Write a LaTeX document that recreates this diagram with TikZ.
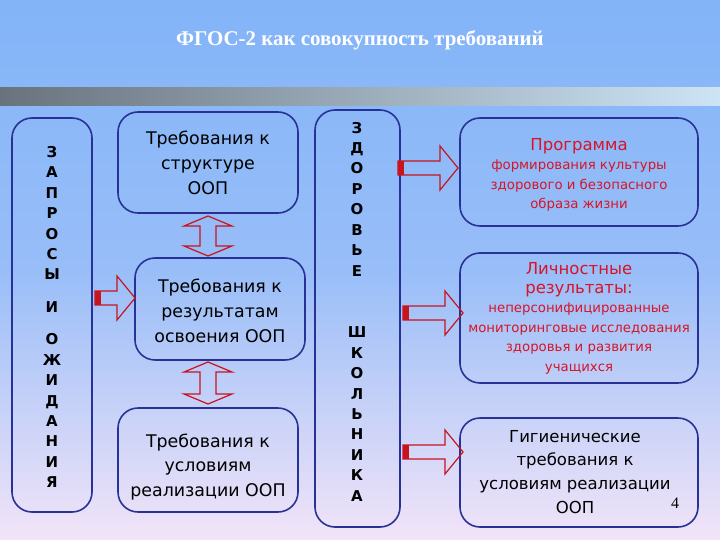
\documentclass[tikz,border=0pt]{standalone}
\usepackage{fontspec}
\setmainfont{Liberation Serif}
\setsansfont{DejaVu Sans}[Scale=0.92]
\newfontfamily\bxf{DejaVu Sans}
\definecolor{bgtop}{RGB}{130,180,248}
\definecolor{bgbot}{RGB}{242,228,248}
\definecolor{bord}{RGB}{40,50,150}
\definecolor{ared}{RGB}{200,20,30}
\definecolor{tred}{RGB}{215,20,40}
\tikzset{
 box/.style={draw=bord,line width=1.6pt,rounded corners=20bp},
 lt/.style={font=\sffamily\fontsize{19}{25}\selectfont,align=center},
 rt/.style={font=\sffamily\fontsize{14.5}{19.5}\selectfont,align=center,text=tred},
 col/.style={font=\bxf\bfseries\fontsize{15}{20.5}\selectfont,align=center},
 arr/.style={draw=ared,line width=1.2pt,line join=miter}
}
\newcommand\rarr[3]{% x1 x2 y
 \draw[arr] (#1,#3-7) -- ({#2-18},#3-7) -- ({#2-18},#3-22) -- (#2,#3) -- ({#2-18},#3+22) -- ({#2-18},#3+7) -- (#1,#3+7) -- cycle;
 \fill[ared] (#1,#3-7) rectangle ({#1+6},#3+7);}
\newcommand\varr[3]{% x y1 y2
 \draw[arr] (#1-8,#2+10) -- (#1-8,#3-10) -- (#1-24,#3-10) -- (#1,#3) -- (#1+24,#3-10) -- (#1+8,#3-10) -- (#1+8,#2+10) -- (#1+24,#2+10) -- (#1,#2) -- (#1-24,#2+10) -- cycle;}
\begin{document}
\begin{tikzpicture}[x=1bp,y=-1bp]
\useasboundingbox (0,0) rectangle (720,540);
\shade[top color=bgtop,bottom color=bgbot,middle color=bgtop!80!bgbot] (0,0) rectangle (720,540);
\shade[left color={rgb,255:red,105;green,115;blue,125},right color={rgb,255:red,205;green,228;blue,245}] (0,88) rectangle (720,106);
\node[font=\bfseries\fontsize{21}{24}\selectfont,text=white] (title) at (360,40) {ФГОС-2 как совокупность требований};
\draw[box] (12,118) rectangle (92,512);
\node[col] (zap) at (52,317) {З\\А\\П\\Р\\О\\С\\Ы\\[12bp]И\\[12bp]О\\Ж\\И\\Д\\А\\Н\\И\\Я};
\draw[box] (118,112) rectangle (298,213);
\node[lt] (b1) at (208,163) {Требования к\\структуре\\ООП};
\draw[box] (135,258) rectangle (305,360);
\node[lt] (b2) at (220,311) {Требования к\\результатам\\освоения ООП};
\draw[box] (118,408) rectangle (298,512);
\node[lt] (b3) at (208,467) {Требования к\\условиям\\реализации ООП};
\draw[box] (315,110) rectangle (400,527);
\node[col] (zd) at (357,199) {З\\Д\\О\\Р\\О\\В\\Ь\\Е};
\node[col] (sh) at (357,414) {Ш\\К\\О\\Л\\Ь\\Н\\И\\К\\А};
\draw[box] (460,118) rectangle (698,226);
\node[rt] (r1) at (579,175) {{\fontsize{18}{22}\selectfont Программа}\\формирования культуры\\здорового и безопасного\\образа жизни};
\draw[box] (460,253) rectangle (698,383);
\node[rt] (r2) at (579,318) {{\fontsize{18}{23}\selectfont Личностные}\\{\fontsize{18}{24}\selectfont результаты:}\\неперсонифицированные\\мониторинговые исследования\\здоровья и развития\\учащихся};
\draw[box] (460,418) rectangle (698,527);
\node[lt,font=\sffamily\fontsize{18}{24}\selectfont] (r3) at (575,472) {Гигиенические\\требования к\\условиям реализации\\ООП};
\node[font=\fontsize{16}{18}\selectfont] (pg) at (675,503) {4};
\rarr{95}{135}{298}
\rarr{398}{458}{168}
\rarr{403}{463}{313}
\rarr{403}{463}{452}
\varr{208}{216}{256}
\varr{208}{362}{404}
\end{tikzpicture}
\end{document}
